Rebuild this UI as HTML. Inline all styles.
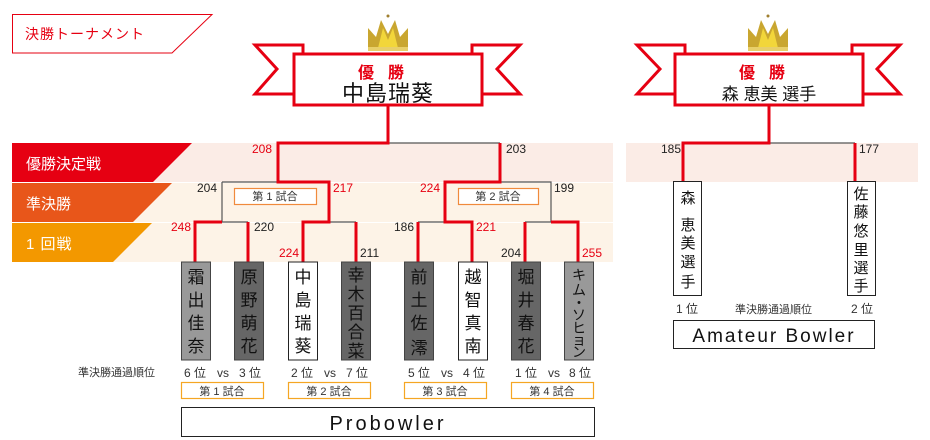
<!DOCTYPE html>
<html><head><meta charset="utf-8"><style>
html,body{margin:0;padding:0;background:#fff;}
svg{display:block;font-family:"Liberation Sans","Noto Sans CJK JP",sans-serif;}
</style></head><body>
<svg width="930" height="440" viewBox="0 0 930 440" xmlns="http://www.w3.org/2000/svg">
<!-- title -->
<polygon points="12.5,14.5 212,14.5 172,53 12.5,53" fill="#fff" stroke="#e60012" stroke-width="1"/>
<text x="25" y="39" font-size="14" fill="#e60012" letter-spacing="1">決勝トーナメント</text>

<!-- bands -->
<rect x="12" y="143" width="601" height="39" fill="#fbece6"/>
<rect x="12" y="183" width="601" height="39" fill="#fdf3e7"/>
<rect x="12" y="223" width="601" height="39" fill="#fdf3e7"/>
<rect x="626" y="143" width="292" height="39" fill="#fbece6"/>
<polygon points="12,143 192,143 153,182 12,182" fill="#e60012"/>
<polygon points="12,183 172,183 133,222 12,222" fill="#e8561a"/>
<polygon points="12,223 152,223 113,262 12,262" fill="#f39800"/>
<text x="26" y="169" font-size="15" fill="#fff">優勝決定戦</text>
<text x="26" y="209" font-size="15" fill="#fff">準決勝</text>
<text x="26" y="249" font-size="15" fill="#fff" letter-spacing="1">1 回戦</text>

<!-- crowns -->
<g id="crown">
<polygon points="368,50 368,28 376,37 381,20 388,34 395,20 400,37 408,28 408,50" fill="#c9a630"/>
<polygon points="378,48 383,28 388,40 393,28 398,48" fill="#f2d63a"/>
<circle cx="388" cy="16" r="1.5" fill="#a08030"/>
<rect x="368" y="47" width="40" height="4" fill="#e8cf6a"/>
</g>
<use href="#crown" x="380"/>

<!-- ribbons -->
<g fill="#fff" stroke="#e60012" stroke-width="3">
<polygon points="255,45 303,45 303,94 255,94 277,69"/>
<polygon points="520,45 472,45 472,94 520,94 497,69"/>
<rect x="294" y="54" width="188" height="51"/>
<polygon points="637,45 685,45 685,94 637,94 660,69"/>
<polygon points="900,45 852,45 852,94 900,94 877,69"/>
<rect x="675" y="54" width="188" height="51"/>
</g>
<text x="388" y="78" font-size="16" fill="#e60012" text-anchor="middle" font-weight="bold" letter-spacing="14">優勝</text>
<text x="388" y="101" font-size="22" fill="#111" text-anchor="middle" letter-spacing="1">中島瑞葵</text>
<text x="769" y="78" font-size="16" fill="#e60012" text-anchor="middle" font-weight="bold" letter-spacing="14">優勝</text>
<text x="769" y="100" font-size="17" fill="#111" text-anchor="middle">森 恵美 選手</text>

<!-- gray lines -->
<g stroke="#555" stroke-width="1.2" fill="none">
<path d="M388,143 H500"/>
<path d="M222,182 H278 M222,182 V222 M500,182 H551 V222"/>
<path d="M222,222 H248 M329,222 H356 M418,222 H445 M525,222 H551"/>
<path d="M769,143 H855"/>
</g>
<!-- red lines -->
<g stroke="#e60012" stroke-width="3" fill="none">
<path d="M388,105 V143 H278 V182 H329 V222 H303 V262"/>
<path d="M500,143 V182 H445 V222 H472 V262"/>
<path d="M195,262 V222 H222"/>
<path d="M248,222 V262 M356,222 V262 M418,222 V262 M525,222 V262"/>
<path d="M578,262 V222 H551"/>
<path d="M769,105 V143 H683 V182 M855,143 V182"/>
</g>

<!-- scores -->
<g font-size="12">
<text x="272" y="153" fill="#e60012" text-anchor="end">208</text>
<text x="506" y="153" fill="#222">203</text>
<text x="217" y="192" fill="#222" text-anchor="end">204</text>
<text x="333" y="192" fill="#e60012">217</text>
<text x="440" y="192" fill="#e60012" text-anchor="end">224</text>
<text x="554" y="192" fill="#222">199</text>
<text x="191" y="231" fill="#e60012" text-anchor="end">248</text>
<text x="254" y="231" fill="#222">220</text>
<text x="299" y="257" fill="#e60012" text-anchor="end">224</text>
<text x="360" y="257" fill="#222">211</text>
<text x="414" y="231" fill="#222" text-anchor="end">186</text>
<text x="476" y="231" fill="#e60012">221</text>
<text x="521" y="257" fill="#222" text-anchor="end">204</text>
<text x="582" y="257" fill="#e60012">255</text>
<text x="681" y="153" fill="#222" text-anchor="end">185</text>
<text x="859" y="153" fill="#222">177</text>
</g>

<!-- match boxes top -->
<g fill="#fff" stroke="#f08a3c" stroke-width="1.2">
<rect x="234.5" y="188.5" width="82" height="16"/>
<rect x="458.5" y="188.5" width="80" height="16"/>
</g>
<g font-size="11" fill="#333" text-anchor="middle">
<text x="275" y="200">第 1 試合</text>
<text x="498" y="200">第 2 試合</text>
</g>

<!-- player boxes -->
<g stroke="#444" stroke-width="1">
<rect x="181.5" y="262" width="29" height="98" fill="#999"/>
<rect x="234.5" y="262" width="29" height="98" fill="#666"/>
<rect x="288.5" y="262" width="29" height="98" fill="#fff" stroke="#222"/>
<rect x="341.5" y="262" width="29" height="98" fill="#666"/>
<rect x="404.5" y="262" width="29" height="98" fill="#666"/>
<rect x="458.5" y="262" width="29" height="98" fill="#fff" stroke="#222"/>
<rect x="511.5" y="262" width="29" height="98" fill="#666"/>
<rect x="564.5" y="262" width="29" height="98" fill="#999"/>
</g>
<g font-size="17" fill="#111" text-anchor="middle">
<text x="196" y="283">霜</text><text x="196" y="306">出</text><text x="196" y="329">佳</text><text x="196" y="352">奈</text>
<text x="249" y="283">原</text><text x="249" y="306">野</text><text x="249" y="329">萌</text><text x="249" y="352">花</text>
<text x="303" y="283">中</text><text x="303" y="306">島</text><text x="303" y="329">瑞</text><text x="303" y="352">葵</text>
<text x="356" y="281">幸</text><text x="356" y="300">木</text><text x="356" y="319">百</text><text x="356" y="338">合</text><text x="356" y="357">菜</text>
<text x="419" y="283">前</text><text x="419" y="306">土</text><text x="419" y="329">佐</text><text x="419" y="354">澪</text>
<text x="473" y="283">越</text><text x="473" y="306">智</text><text x="473" y="329">真</text><text x="473" y="352">南</text>
<text x="526" y="283">堀</text><text x="526" y="306">井</text><text x="526" y="329">春</text><text x="526" y="352">花</text>
</g>
<g font-size="14" fill="#111" text-anchor="middle">
<text x="579" y="280">キ</text><text x="579" y="295">ム</text><text x="579" y="308">・</text><text x="579" y="320">ソ</text><text x="579" y="333">ヒ</text><text x="579" y="345">ョ</text><text x="579" y="357">ン</text>
</g>

<!-- ranks -->
<g font-size="12" fill="#333">
<text x="78" y="376" font-size="11">準決勝通過順位</text>
<text x="184" y="377">6 位</text><text x="217" y="377">vs</text><text x="239" y="377">3 位</text>
<text x="291" y="377">2 位</text><text x="324" y="377">vs</text><text x="346" y="377">7 位</text>
<text x="408" y="377">5 位</text><text x="441" y="377">vs</text><text x="463" y="377">4 位</text>
<text x="515" y="377">1 位</text><text x="548" y="377">vs</text><text x="569" y="377">8 位</text>
</g>
<g fill="#fff" stroke="#f5a623" stroke-width="1.2">
<rect x="181.5" y="382.5" width="82" height="16"/>
<rect x="288.5" y="382.5" width="82" height="16"/>
<rect x="404.5" y="382.5" width="82" height="16"/>
<rect x="511.5" y="382.5" width="82" height="16"/>
</g>
<g font-size="11" fill="#333" text-anchor="middle">
<text x="222" y="395">第 1 試合</text>
<text x="329" y="395">第 2 試合</text>
<text x="445" y="395">第 3 試合</text>
<text x="552" y="395">第 4 試合</text>
</g>
<rect x="181.5" y="407.5" width="413" height="29" fill="#fff" stroke="#222" stroke-width="1"/>
<text x="388" y="430" font-size="20" fill="#111" text-anchor="middle" letter-spacing="3">Probowler</text>

<!-- amateur -->
<rect x="673.5" y="181.5" width="28" height="114" fill="#fff" stroke="#222"/>
<rect x="847.5" y="181.5" width="28" height="114" fill="#fff" stroke="#222"/>
<g font-size="15" fill="#111" text-anchor="middle">
<text x="688" y="203">森</text><text x="688" y="230">恵</text><text x="688" y="248">美</text><text x="688" y="267">選</text><text x="688" y="287">手</text>
<text x="861" y="199">佐</text><text x="861" y="217">藤</text><text x="861" y="236">悠</text><text x="861" y="255">里</text><text x="861" y="273">選</text><text x="861" y="291">手</text>
</g>
<g font-size="12" fill="#333">
<text x="676" y="313">1 位</text>
<text x="735" y="313" font-size="11">準決勝通過順位</text>
<text x="851" y="313">2 位</text>
</g>
<rect x="673.5" y="320.5" width="201" height="28" fill="#fff" stroke="#222"/>
<text x="774" y="342" font-size="19" fill="#111" text-anchor="middle" letter-spacing="2">Amateur Bowler</text>
</svg>
</body></html>
